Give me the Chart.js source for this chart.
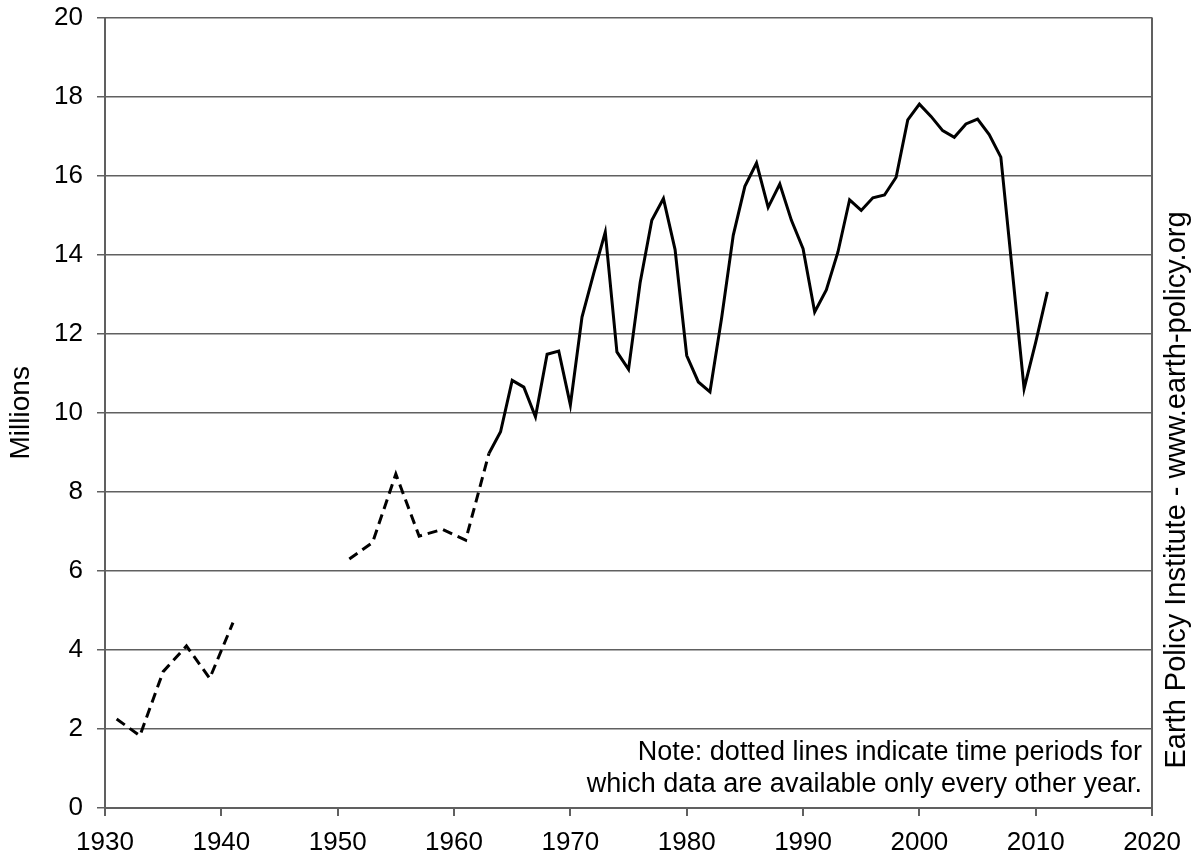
<!DOCTYPE html>
<html>
<head>
<meta charset="utf-8">
<script src="https://cdn.jsdelivr.net/npm/chart.js@4/dist/chart.umd.min.js"></script>
<style>
  html, body { margin: 0; padding: 0; background: #fff; overflow: hidden; }
  /* canvas is a bit taller and pulled up so the plot top lands where the reference has it */
  #wrap { width: 1192px; height: 871px; position: relative; margin-top: -12px; }
</style>
</head>
<body>
<div id="wrap"><canvas id="salesChart"></canvas></div>
<script>
// pre-war years, data every other year (dashed)
const earlyYears = [1931, 1933, 1935, 1937, 1939, 1941];
const earlyValues = [2.25, 1.83, 3.45, 4.1, 3.28, 4.69];

// post-war years, data every other year (dashed)
const postwarYears = [1951, 1953, 1955, 1957, 1959, 1961, 1963];
const postwarValues = [6.3, 6.72, 8.45, 6.88, 7.05, 6.78, 8.97];

// annual data (solid)
const annualYears = [1963, 1964, 1965, 1966, 1967, 1968, 1969, 1970, 1971, 1972,
  1973, 1974, 1975, 1976, 1977, 1978, 1979, 1980, 1981, 1982,
  1983, 1984, 1985, 1986, 1987, 1988, 1989, 1990, 1991, 1992,
  1993, 1994, 1995, 1996, 1997, 1998, 1999, 2000, 2001, 2002,
  2003, 2004, 2005, 2006, 2007, 2008, 2009, 2010, 2011];
const annualValues = [8.97, 9.52, 10.82, 10.65, 9.9, 11.48, 11.56, 10.2, 12.42, 13.52,
  14.57, 11.54, 11.1, 13.3, 14.87, 15.42, 14.13, 11.45, 10.78, 10.53,
  12.4, 14.49, 15.73, 16.32, 15.2, 15.79, 14.87, 14.15, 12.55, 13.11,
  14.07, 15.39, 15.12, 15.44, 15.51, 15.96, 17.41, 17.81, 17.5, 17.14,
  16.97, 17.31, 17.43, 17.04, 16.47, 13.55, 10.61, 11.79, 13.06];

const xTickValues = [1930, 1940, 1950, 1960, 1970, 1980, 1990, 2000, 2010, 2020];
const yTickValues = [0, 2, 4, 6, 8, 10, 12, 14, 16, 18, 20];

const noteLines = ['Note: dotted lines indicate time periods for',
                   'which data are available only every other year.'];
const sourceText = 'Earth Policy Institute - www.earth-policy.org';

const FONT = '"Liberation Sans", Arial, sans-serif';
const GRID = '#606060';

function toPoints(years, values) {
    return years.map((y, i) => ({ x: y, y: values[i] }));
}

// draws the note and the vertical source text
const extraText = {
    id: 'extraText',
    afterDraw(chart) {
        const ctx = chart.ctx;
        const area = chart.chartArea;
        ctx.save();
        ctx.fillStyle = '#000';
        ctx.font = '27px ' + FONT;
        ctx.textAlign = 'right';
        ctx.textBaseline = 'middle';
        ctx.fillText(noteLines[0], area.right - 10, area.bottom - 55);
        ctx.fillText(noteLines[1], area.right - 10, area.bottom - 23);

        ctx.translate(1177, 502);
        ctx.rotate(-Math.PI / 2);
        ctx.textAlign = 'center';
        ctx.font = '29px ' + FONT;
        ctx.fillText(sourceText, 0, 0);
        ctx.restore();
    }
};

const ctx = document.getElementById('salesChart').getContext('2d');
const lineStyle = {
    borderColor: '#000',
    borderWidth: 3,
    pointRadius: 0,
    tension: 0,
    fill: false
};

new Chart(ctx, {
    type: 'line',
    data: {
        datasets: [
            Object.assign({ data: toPoints(earlyYears, earlyValues), borderDash: [10, 6] }, lineStyle),
            Object.assign({ data: toPoints(postwarYears, postwarValues), borderDash: [10, 6] }, lineStyle),
            Object.assign({ data: toPoints(annualYears, annualValues) }, lineStyle)
        ]
    },
    options: {
        responsive: true,
        maintainAspectRatio: false,
        animation: false,
        layout: { padding: { left: 0, top: 6, right: 39, bottom: 0 } },
        plugins: {
            legend: { display: false },
            tooltip: { enabled: false }
        },
        scales: {
            x: {
                type: 'linear',
                min: 1930,
                max: 2020,
                afterBuildTicks: scale => { scale.ticks = xTickValues.map(v => ({ value: v })); },
                afterFit: scale => { scale.height = 51; },
                border: { color: GRID, width: 2 },
                grid: {
                    drawOnChartArea: true,
                    color: c => (c.tick && c.tick.value === 2020) ? GRID : 'rgba(0,0,0,0)',
                    lineWidth: 2,
                    tickColor: GRID,
                    tickLength: 8
                },
                ticks: {
                    color: '#000',
                    font: { family: FONT, size: 26 },
                    padding: 11,
                    maxRotation: 0,
                    callback: v => String(v)
                }
            },
            y: {
                min: 0,
                max: 20,
                afterBuildTicks: scale => { scale.ticks = yTickValues.map(v => ({ value: v })); },
                afterFit: scale => { scale.width = 105; },
                border: { color: GRID, width: 2 },
                grid: {
                    color: GRID,
                    lineWidth: 1.5,
                    tickColor: GRID,
                    tickLength: 8
                },
                ticks: {
                    color: '#000',
                    font: { family: FONT, size: 26 },
                    padding: 14,
                    callback: v => String(v)
                },
                title: {
                    display: true,
                    text: 'Millions',
                    color: '#000',
                    font: { family: FONT, size: 28 },
                    padding: { top: 4, bottom: 0 }
                }
            }
        }
    },
    plugins: [extraText]
});
</script>
</body>
</html>
